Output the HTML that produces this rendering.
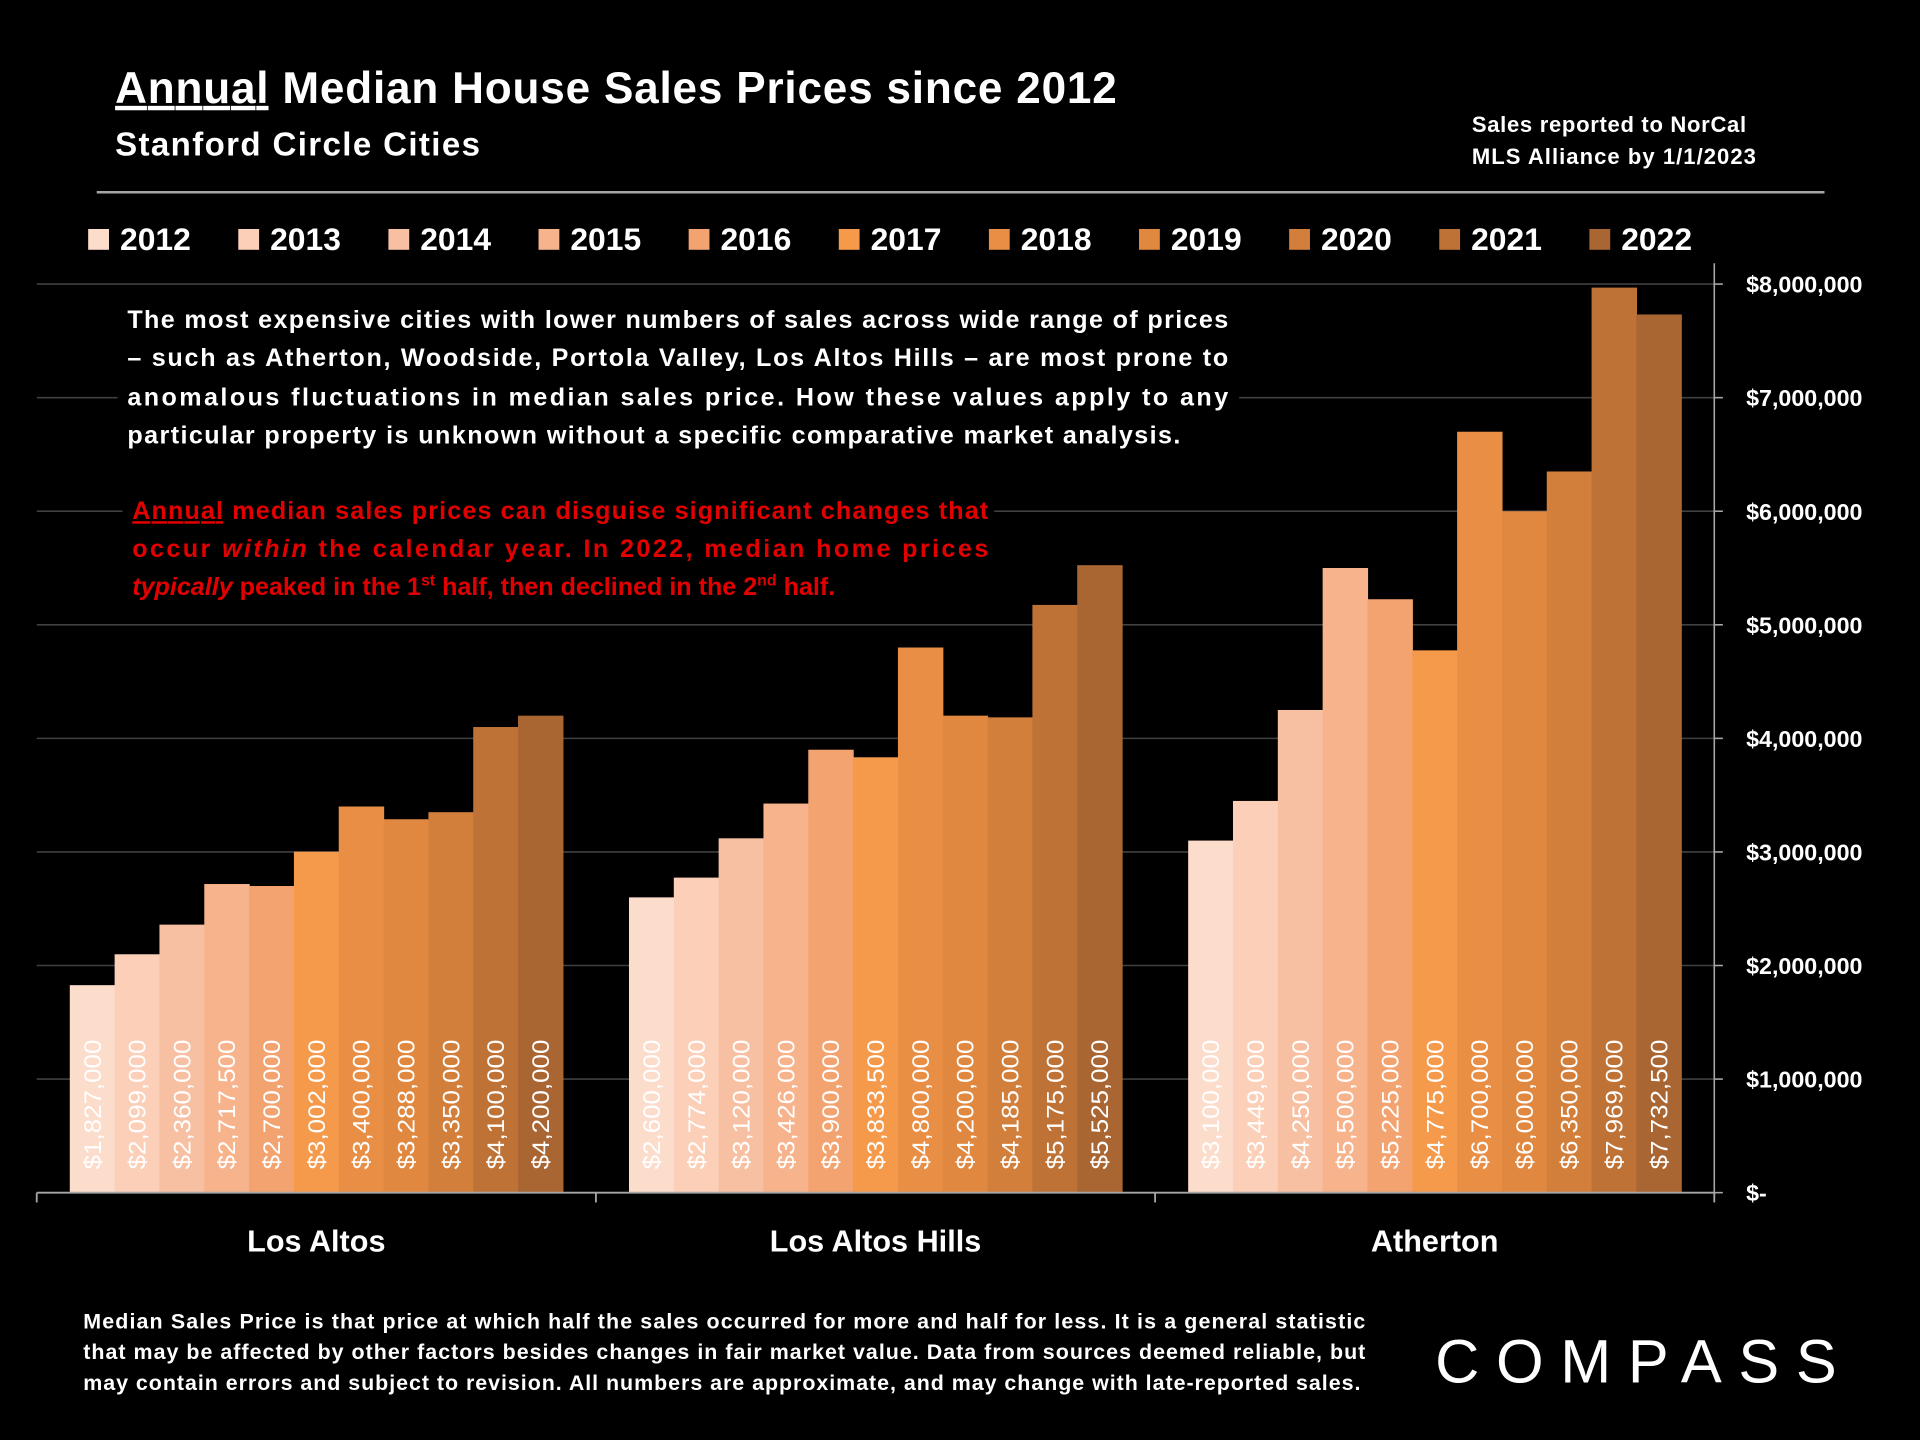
<!DOCTYPE html>
<html><head><meta charset="utf-8"><style>
html,body{margin:0;padding:0;background:#000;}
svg{display:block;font-family:"Liberation Sans",sans-serif;}
</style></head><body>
<svg id="chart" width="1920" height="1440" viewBox="0 0 1568 1176" xmlns="http://www.w3.org/2000/svg">
<rect width="1568" height="1176" fill="#000"/>
<g id="grid"></g>
<text x="94" y="84" fill="#fff" font-size="36" font-weight="bold" textLength="818"><tspan text-decoration="underline">Annual</tspan> Median House Sales Prices since 2012</text>
<text x="94" y="127" fill="#fff" font-size="27" font-weight="bold" textLength="298">Stanford Circle Cities</text>
<text x="1202" y="108" fill="#fff" font-size="18" font-weight="bold"><tspan x="1202" textLength="224">Sales reported to NorCal</tspan><tspan x="1202" dy="26" textLength="232">MLS Alliance by 1/1/2023</tspan></text>
<line x1="79" y1="157" x2="1490" y2="157" stroke="#a6a6a6" stroke-width="2"/>
<g id="legend"></g>
<g id="bars"></g>
<g id="axis"></g>
<g font-weight="bold" font-size="20.5">
<rect x="96" y="240" width="916" height="135" fill="#000"/>
<text fill="#fff" text-anchor="start">
<tspan x="104" y="268" textLength="899" lengthAdjust="spacing">The most expensive cities with lower numbers of sales across wide range of prices</tspan>
<tspan x="104" y="299" textLength="899" lengthAdjust="spacing">– such as Atherton, Woodside, Portola Valley, Los Altos Hills – are most prone to</tspan>
<tspan x="104" y="331" textLength="899" lengthAdjust="spacing">anomalous fluctuations in median sales price. How these values apply to any</tspan>
<tspan x="104" y="362" textLength="860" lengthAdjust="spacing">particular property is unknown without a specific comparative market analysis.</tspan>
</text>
<rect x="100" y="398" width="712" height="100" fill="#000"/>
<text fill="#e30000">
<tspan x="108" y="424" textLength="699" lengthAdjust="spacing"><tspan text-decoration="underline">Annual</tspan> median sales prices can disguise significant changes that</tspan>
<tspan x="108" y="455" textLength="699" lengthAdjust="spacing">occur <tspan font-style="italic">within</tspan> the calendar year. In 2022, median home prices</tspan>
<tspan x="108" y="486"><tspan font-style="italic">typically</tspan> peaked in the 1<tspan font-size="13" dy="-8">st</tspan><tspan dy="8"> half, then declined in the 2</tspan><tspan font-size="13" dy="-8">nd</tspan><tspan dy="8"> half.</tspan></tspan>
</text>
</g>
<text x="68" y="1085" fill="#fff" font-size="17.5" font-weight="bold">
<tspan x="68" textLength="1047" lengthAdjust="spacing">Median Sales Price is that price at which half the sales occurred for more and half for less. It is a general statistic</tspan>
<tspan x="68" dy="25" textLength="1047" lengthAdjust="spacing">that may be affected by other factors besides changes in fair market value. Data from sources deemed reliable, but</tspan>
<tspan x="68" dy="25" textLength="1043" lengthAdjust="spacing">may contain errors and subject to revision.  All numbers are approximate, and may change with late-reported sales.</tspan>
</text>
<text x="1172" y="1129" fill="#fff" font-size="50" letter-spacing="6" textLength="334">COMPASS</text>
</svg>
<script>
const categories = ["Los Altos","Los Altos Hills","Atherton"];
const years = ["2012","2013","2014","2015","2016","2017","2018","2019","2020","2021","2022"];
const losAltos = [1827000,2099000,2360000,2717500,2700000,3002000,3400000,3288000,3350000,4100000,4200000];
const losAltosHills = [2600000,2774000,3120000,3426000,3900000,3833500,4800000,4200000,4185000,5175000,5525000];
const atherton = [3100000,3449000,4250000,5500000,5225000,4775000,6700000,6000000,6350000,7969000,7732500];
const tickValues = [0,1000000,2000000,3000000,4000000,5000000,6000000,7000000,8000000];
const tickLabels = ["$-","$1,000,000","$2,000,000","$3,000,000","$4,000,000","$5,000,000","$6,000,000","$7,000,000","$8,000,000"];
const colors = ["#fcdccb","#fbcfb8","#f8c0a2","#f6b38c","#f3a36f","#f5994a","#e98e45","#e08840","#d27f3b","#be7236","#a96532"];
const series = [losAltos, losAltosHills, atherton];

const NS = "http://www.w3.org/2000/svg";
const X0 = 30, X1 = 1400, Y0 = 974, YTOP = 232, VMAX = 8000000;
const yScale = v => Y0 - (v / VMAX) * (Y0 - YTOP);
const groupW = (X1 - X0) / categories.length;
const pad = 27;
const barW = (groupW - 2 * pad) / years.length;
const xBar = (g, i) => X0 + g * groupW + pad + i * barW;
function mk(tag, attrs, parent){const e=document.createElementNS(NS,tag);for(const k in attrs)e.setAttribute(k,attrs[k]);parent.appendChild(e);return e;}

const grid = document.getElementById('grid');
const axis = document.getElementById('axis');
tickValues.forEach((v,i)=>{
  const y = yScale(v);
  if (v>0) {
    const l = mk('line',{x1:X0,x2:X1,y1:y,y2:y,stroke:'#404040','stroke-width':1.3},grid);
    
    
  }
  mk('line',{x1:X1,x2:X1+7,y1:y,y2:y,stroke:'#a6a6a6','stroke-width':1.3},axis);
  const t = mk('text',{x:X1+26,y:y+7,fill:'#fff','font-size':19,'font-weight':'bold'},axis);
  t.textContent = tickLabels[i];
  
  
});
mk('line',{x1:X1,x2:X1,y1:215,y2:Y0,stroke:'#a6a6a6','stroke-width':1.3},axis);
mk('line',{x1:X0,x2:X1,y1:Y0,y2:Y0,stroke:'#a6a6a6','stroke-width':1.5},axis);
for(let g=0;g<=categories.length;g++){
  const x = X0+g*groupW;
  mk('line',{x1:x,x2:x,y1:Y0,y2:Y0+8,stroke:'#a6a6a6','stroke-width':1.5},axis);
}

const bars = document.getElementById('bars');
series.forEach((vals,g)=>{
  vals.forEach((v,i)=>{
    const x = xBar(g,i), y = yScale(v);
    const r = mk('rect',{x:x,y:y,width:barW+0.5,height:Y0-y,fill:colors[i]},bars);
    
    
    const cx = x+barW/2+7, cy = Y0-19;
    const t = mk('text',{x:cx,y:cy,fill:'#fff','font-size':20,transform:`rotate(-90 ${cx} ${cy})`,textLength:106,lengthAdjust:'spacingAndGlyphs'},bars);
    t.textContent = '$'+v.toLocaleString('en-US');
    
    
  });
  const c = mk('text',{x:X0+g*groupW+groupW/2,y:1022,fill:'#fff','font-size':25,'font-weight':'bold','text-anchor':'middle'},bars);
  c.textContent = categories[g];
  
  
});

const legend = document.getElementById('legend');
years.forEach((yr,i)=>{
  const x = 72 + i*122.6;
  const r = mk('rect',{x:x,y:187,width:17,height:17,fill:colors[i]},legend);
  
  
  const t = mk('text',{x:x+26,y:204,fill:'#fff','font-size':26,'font-weight':'bold'},legend);
  t.textContent = yr;
  
  
});
</script>
</body></html>
